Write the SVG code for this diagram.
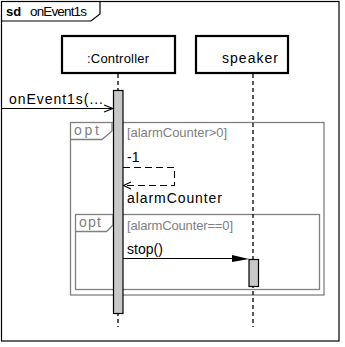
<svg xmlns="http://www.w3.org/2000/svg" width="345" height="347" viewBox="0 0 345 347">
<style>
text{font-family:"Liberation Sans",Arial,sans-serif;}
.msg{font-size:14px;fill:#000;}
.gray{fill:#808080;}
.guard{font-size:13px;fill:#808080;}
.frame{fill:none;stroke:#000;stroke-width:1.2;}
.opt{fill:none;stroke:#808080;stroke-width:1.3;}
.box{fill:#fff;stroke:#000;stroke-width:2.2;}
.life{stroke:#000;stroke-width:1.3;stroke-dasharray:4 3;fill:none;}
.act{fill:#c8c8c8;stroke:#000;stroke-width:1.2;}
.line{stroke:#000;stroke-width:1.1;fill:none;}
.dash{stroke:#000;stroke-width:1.1;fill:none;stroke-dasharray:7 4;}
</style>
<rect width="345" height="347" fill="#fff"/>
<g id="frame">
  <rect class="frame" x="1.5" y="1.5" width="337.5" height="339.5"/>
  <polyline class="frame" points="1.5,21 91,21 100,14 100,1.5"/>
  <text x="6" y="16" style="font-size:13px;font-weight:bold">sd</text>
  <text x="30" y="16" style="font-size:13.5px" textLength="57" lengthAdjust="spacing">onEvent1s</text>
</g>
<g id="opt1">
  <rect class="opt" x="70.5" y="122.5" width="253.5" height="172.5"/>
  <polyline class="opt" points="70.5,139.5 102,139.5 112,131 112,122.5"/>
  <text class="gray" x="74" y="135" style="font-size:14px" textLength="25" lengthAdjust="spacing">opt</text>
  <text class="guard" x="127" y="137" textLength="100" lengthAdjust="spacing">[alarmCounter&gt;0]</text>
</g>
<g id="opt2">
  <rect class="opt" x="75.5" y="214.5" width="244" height="75"/>
  <polyline class="opt" points="75.5,231.5 106.5,231.5 113,225 113,214.5"/>
  <text class="gray" x="79" y="227" style="font-size:14px" textLength="22" lengthAdjust="spacing">opt</text>
  <text class="guard" x="127" y="230" textLength="106" lengthAdjust="spacing">[alarmCounter==0]</text>
</g>
<g id="controller">
  <line class="life" x1="118" y1="74" x2="118" y2="327"/>
  <rect class="box" x="62" y="36" width="113" height="37"/>
  <text x="118" y="63" text-anchor="middle" style="font-size:13px" textLength="62" lengthAdjust="spacing">:Controller</text>
  <rect class="act" x="113.5" y="90.5" width="9.5" height="223"/>
</g>
<g id="speaker">
  <line class="life" x1="253" y1="74" x2="253" y2="327"/>
  <rect class="box" x="196" y="36" width="92" height="37"/>
  <text x="250" y="63" text-anchor="middle" style="font-size:14px" textLength="56" lengthAdjust="spacing">speaker</text>
  <rect class="act" x="249" y="259.5" width="9.5" height="27"/>
</g>
<g id="connectors">
  <line class="line" x1="2" y1="108.5" x2="113" y2="108.5"/>
  <polyline class="line" points="104,105 113,108.5 104,112"/>
  <text class="msg" x="9" y="104" textLength="94" lengthAdjust="spacing">onEvent1s(...</text>
  <polyline class="dash" points="123,167.5 174.5,167.5 174.5,185.5 124,185.5"/>
  <polyline class="line" points="131,182 123.5,185.5 131,189"/>
  <text class="msg" x="127" y="162">-1</text>
  <text class="msg" x="127" y="203" textLength="95" lengthAdjust="spacing">alarmCounter</text>
  <line class="line" x1="123" y1="258.5" x2="240" y2="258.5"/>
  <polygon points="249,259 232,255 232,262" fill="#000"/>
  <text class="msg" x="127" y="254" textLength="36" lengthAdjust="spacing">stop()</text>
</g>
</svg>
